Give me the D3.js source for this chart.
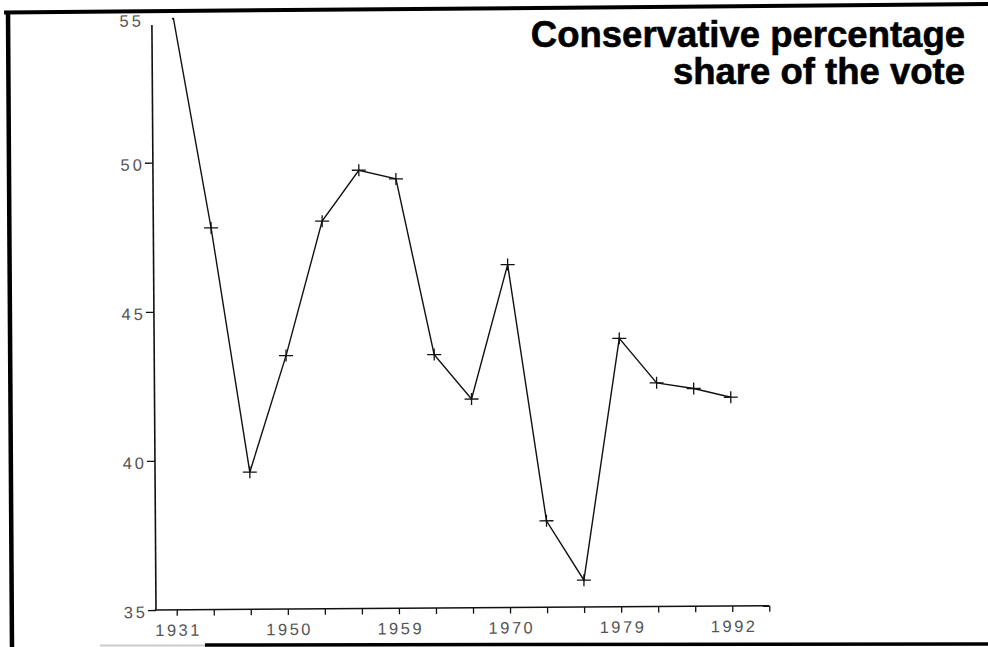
<!DOCTYPE html>
<meta charset="utf-8">
<script src="https://d3js.org/d3.v7.min.js"></script>
<style>
  body { margin: 0; background: #fff; }
</style>
<div id="chart"></div>
<script>
  // general elections, in order (the axis is evenly spaced, not by date)
  var elections = ["1931", "1935", "1945", "1950", "1951", "1955", "1959", "1964",
    "1966", "1970", "1974 Feb", "1974 Oct", "1979", "1983", "1987", "1992"];
  // Conservative share of the vote, %
  var conShare = [55.0, 47.8, 39.6, 43.5, 48.0, 49.7, 49.4, 43.5,
    42.0, 46.5, 37.9, 35.9, 44.0, 42.5, 42.3, 42.0];
  var xTickLabels = ["1931", "1950", "1959", "1970", "1979", "1992"];
  var yTicks = [35, 40, 45, 50, 55];
  var titleLines = ["Conservative percentage", "share of the vote"];

  var W = 988, H = 647;
  var ox = 156, oy = 610;   // axis origin
  var tilt = -0.4;          // the original is a slightly skewed scan

  var svg = d3.select("#chart").append("svg")
    .attr("width", W)
    .attr("height", H);

  // frame
  svg.append("path")
    .attr("d", "M4,12.5 L988,4")
    .attr("stroke", "#000").attr("stroke-width", 4).attr("fill", "none");
  svg.append("path")
    .attr("d", "M8,11 L12,647")
    .attr("stroke", "#000").attr("stroke-width", 4.5).attr("fill", "none");
  svg.append("path")
    .attr("d", "M100,645.5 L205,645.5")
    .attr("stroke", "#ccc").attr("stroke-width", 2).attr("fill", "none");
  svg.append("path")
    .attr("d", "M205,645 L988,644")
    .attr("stroke", "#000").attr("stroke-width", 3.5).attr("fill", "none");

  var g = svg.append("g")
    .attr("transform", "rotate(" + tilt + "," + ox + "," + oy + ")");

  var x = d3.scaleLinear()
    .domain([0, elections.length])
    .range([176.7, 769.3]);

  var y = d3.scaleLinear()
    .domain([35, 55])
    .range([oy, 13.6]);

  // x axis
  var xAxis = g.append("g")
    .attr("transform", "translate(0," + oy + ")")
    .call(d3.axisBottom(x)
      .tickValues(d3.range(elections.length + 1))
      .tickSize(6)
      .tickSizeOuter(0)
      .tickFormat(function(i) {
        return xTickLabels.indexOf(elections[i]) >= 0 ? elections[i] : "";
      }));
  xAxis.select(".domain").remove();
  xAxis.selectAll(".tick line").attr("stroke", "#111").attr("stroke-width", 1.3);
  xAxis.selectAll(".tick text")
    .attr("y", 26)
    .attr("dy", 0)
    .attr("dx", 1.2)
    .attr("fill", "#555")
    .style("font-family", "'Liberation Sans', Arial, sans-serif")
    .style("font-size", "16.5px")
    .style("letter-spacing", "2.5px");
  g.append("line")
    .attr("x1", ox - 1).attr("x2", x(elections.length))
    .attr("y1", oy).attr("y2", oy)
    .attr("stroke", "#111").attr("stroke-width", 1.6);

  // y axis
  var yAxis = g.append("g")
    .attr("transform", "translate(" + ox + ",0)")
    .call(d3.axisLeft(y)
      .tickValues(yTicks)
      .tickSize(8)
      .tickPadding(0)
      .tickSizeOuter(0));
  yAxis.select(".domain").remove();
  yAxis.selectAll(".tick line")
    .attr("stroke", "#111").attr("stroke-width", 1.3)
    .filter(function(d) { return d === 55; }).remove();
  yAxis.selectAll(".tick text")
    .attr("dy", "0.45em")
    .attr("fill", "#555")
    .style("font-family", "'Liberation Sans', Arial, sans-serif")
    .style("font-size", "16.5px")
    .style("letter-spacing", "3px");
  yAxis.selectAll(".tick")
    .filter(function(d) { return d === 55; })
    .select("text").attr("dy", "0.75em");
  g.append("line")
    .attr("x1", ox).attr("x2", ox)
    .attr("y1", 25).attr("y2", oy)
    .attr("stroke", "#111").attr("stroke-width", 1.6);

  // the top of the plot is cut off by the frame
  g.append("clipPath").attr("id", "plotclip")
    .append("rect")
    .attr("x", ox).attr("y", 18)
    .attr("width", W).attr("height", oy);

  var plot = g.append("g").attr("clip-path", "url(#plotclip)");

  var line = d3.line()
    .x(function(d, i) { return x(i); })
    .y(function(d) { return y(d); });

  plot.append("path")
    .datum(conShare)
    .attr("fill", "none")
    .attr("stroke", "#111")
    .attr("stroke-width", 1.4)
    .attr("d", line);

  // "+" markers
  plot.selectAll(".mark")
    .data(conShare)
    .enter().append("path")
    .attr("class", "mark")
    .attr("transform", function(d, i) { return "translate(" + x(i) + "," + y(d) + ")"; })
    .attr("d", "M-7,0H7M0,-6V6")
    .attr("stroke", "#111")
    .attr("stroke-width", 1.3)
    .attr("fill", "none");

  // title
  svg.append("text")
    .attr("x", 965)
    .attr("y", 47)
    .attr("text-anchor", "end")
    .attr("fill", "#000")
    .attr("stroke", "#000")
    .attr("stroke-width", 0.6)
    .style("font-family", "'Liberation Sans', Arial, sans-serif")
    .style("font-weight", "bold")
    .style("font-size", "36.5px")
    .selectAll("tspan")
    .data(titleLines)
    .enter().append("tspan")
    .attr("x", 965)
    .attr("dy", function(d, i) { return i === 0 ? 0 : 37; })
    .text(function(d) { return d; });
</script>
